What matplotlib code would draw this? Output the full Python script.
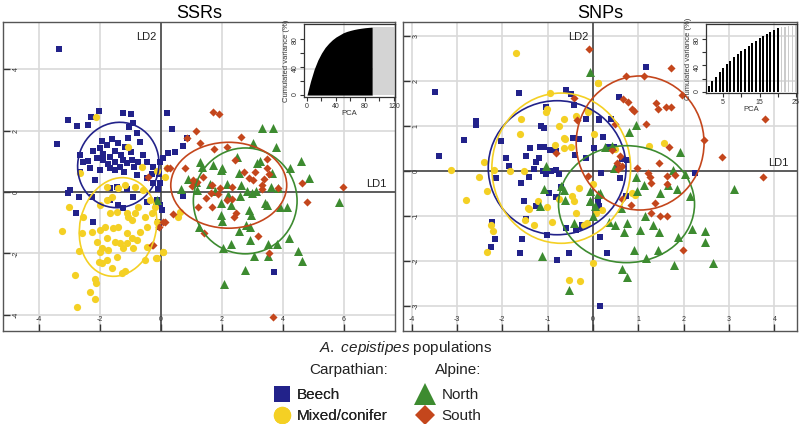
import numpy as np
import matplotlib
matplotlib.use("Agg")
import matplotlib.pyplot as plt
from matplotlib.patches import Ellipse
from matplotlib.lines import Line2D

plt.rcParams['font.family'] = ['Liberation Sans', 'DejaVu Sans']
plt.rcParams['mathtext.fontset'] = 'custom'
plt.rcParams['mathtext.it'] = 'Liberation Sans:italic'
plt.rcParams['mathtext.rm'] = 'Liberation Sans'

groups = ['Beech', 'Mixed/conifer', 'North', 'South']
colors = {'Beech': '#22228a', 'Mixed/conifer': '#f4d024', 'North': '#3d8b30', 'South': '#c4461c'}
markers = {'Beech': 's', 'Mixed/conifer': 'o', 'North': '^', 'South': 'D'}
msize = {'Beech': 25, 'Mixed/conifer': 27, 'North': 42, 'South': 17}

# ---- SSRs : LD1 / LD2 scores ----
ssr_beech = [
    (-3.34, 4.65), (0.19, 2.59), (0.35, 2.05), (0.84, 1.77), (0.71, 1.50), (0.46, 1.31), (0.24, 1.26), (0.08, 1.10),
    (0.73, -0.13), (3.70, -2.61), (-3.04, 2.35), (-2.03, 2.65), (-1.23, 2.59), (-0.98, 2.54), (-2.30, 2.43),
    (-2.74, 2.15), (-2.38, 2.18), (-3.40, 1.55), (-1.62, 1.72), (-1.07, 1.77), (-0.80, 1.93), (-1.04, 2.13),
    (-0.91, 2.24), (-0.69, 1.64), (-2.22, 1.32), (-2.00, 1.42), (-1.78, 1.53), (-1.40, 1.59), (-1.18, 1.48),
    (-2.66, 1.21), (-2.55, 0.99), (-2.11, 1.10), (-1.89, 1.04), (-1.67, 1.15), (-1.51, 0.99), (-1.34, 0.83),
    (-1.13, 0.93), (-0.96, 1.04), (-0.74, 0.99), (-0.47, 0.99), (-0.25, 0.83), (-0.03, 0.99), (-2.33, 0.77),
    (-2.00, 0.72), (-1.67, 0.77), (-1.51, 0.72), (-2.16, 0.39), (-2.66, 0.66), (-0.80, 0.55), (-0.47, 0.45),
    (-0.25, 0.28), (-0.03, 0.28), (-1.45, 0.17), (-1.13, 0.09), (-1.67, 0.12), (-2.98, 0.07), (-3.04, -0.04),
    (-2.69, -0.17), (-1.67, -0.26), (-1.40, -0.42), (-1.23, -0.53), (-0.91, -0.15), (-0.47, -0.32), (-0.14, -0.26),
    (-0.03, -0.42), (0.02, -0.59), (-2.27, -0.15), (-2.79, -0.70), (-2.22, -0.97), (-0.09, -0.97), (-0.05, -1.13),
    (-1.90, 1.25), (-1.30, 1.20), (-1.00, 1.30), (-0.60, 1.20), (-1.75, 0.90), (-1.20, 0.65), (-0.90, 0.80),
    (-0.30, 0.60), (-2.40, 1.00), (-1.50, 1.35), (-0.05, 0.60), (-0.10, 0.10), (-1.95, 1.65), (-1.25, 1.05)]
ssr_mixed = [
    (-2.14, 2.43), (-1.07, 1.46), (-2.66, 0.63), (-0.14, 0.70), (-0.63, 0.80), (-1.78, 0.17), (-3.01, -0.48),
    (-3.26, -1.26), (-2.55, -0.80), (-2.60, -1.35), (-2.69, -1.91), (-2.82, -2.71), (-2.74, -3.74), (-2.33, -3.25),
    (-2.16, -2.85), (-2.13, -2.98), (-2.16, -3.50), (-2.02, -2.27), (-2.00, -1.95), (-2.11, -1.62), (-2.27, -1.29),
    (-2.00, -1.24), (-1.84, -1.13), (-1.56, -1.18), (-1.40, -1.13), (-1.13, -1.35), (-0.96, -1.51), (-0.80, -1.57),
    (-0.47, -1.78), (-0.52, -2.22), (-0.14, -2.16), (0.08, -1.95), (-0.91, -1.84), (-1.23, -1.84), (-1.45, -2.11),
    (-1.78, -2.22), (-1.95, -2.33), (-1.62, -2.49), (-1.29, -2.65), (-1.18, -2.57), (-1.78, -1.51), (-1.51, -1.62),
    (-1.34, -1.67), (-1.13, -1.67), (-1.73, -1.89), (-1.95, -1.84), (-1.67, -0.70), (-2.00, -0.42), (-1.45, -0.64),
    (-1.13, -0.70), (-0.85, -0.70), (-0.52, -0.80), (-0.31, -0.70), (-0.20, -0.48), (-0.74, -0.48), (-0.96, -0.91),
    (-0.47, -1.13), (-0.69, -1.29), (-1.07, -0.80), (-1.78, -0.26), (-1.62, -0.15), (-1.40, 0.12), (-1.18, 0.23),
    (-0.85, 0.15), (-0.58, 0.07), (-0.36, -0.26), (-0.14, -0.97), (0.62, -0.64), (0.57, -0.80), (0.08, -1.94),
    (-0.16, -2.15), (0.19, 0.77), (0.14, 0.50)]
ssr_north = [
    (3.30, 2.10), (3.68, 2.08), (3.77, 1.48), (3.03, 1.61), (2.48, 1.15), (1.28, 0.99), (1.33, 0.83), (1.72, 0.88),
    (1.97, 0.72), (1.99, 0.77), (2.54, 0.63), (3.14, 0.96), (3.23, 1.01), (3.63, 0.61), (4.23, 0.77), (4.58, 1.01),
    (4.86, 0.47), (0.90, 0.42), (1.15, 0.34), (1.61, 0.26), (2.15, 0.25), (2.62, 0.23), (2.81, 0.04), (0.65, 0.09),
    (1.17, 0.07), (1.77, 0.04), (2.21, -0.10), (2.59, -0.13), (2.97, -0.02), (3.11, 0.04), (3.60, 0.15), (3.85, 0.12),
    (1.97, -0.35), (2.29, -0.42), (2.90, -0.59), (3.42, -0.37), (3.47, -0.42), (3.90, -0.48), (4.12, -0.50),
    (1.97, -0.75), (1.99, -0.93), (2.95, -0.75), (2.54, -1.27), (2.79, -1.08), (2.92, -1.13), (1.26, -1.13),
    (2.02, -1.82), (2.29, -1.71), (2.92, -1.57), (3.05, -2.09), (3.52, -1.71), (3.79, -1.70), (4.21, -1.51),
    (4.48, -1.91), (4.63, -2.24), (2.75, -2.54), (3.52, -2.09), (2.07, -3.01), (5.84, -0.34), (-0.14, -0.26)]
ssr_south = [
    (1.69, 2.60), (1.90, 2.54), (1.15, 1.99), (0.84, 1.75), (1.28, 1.59), (1.74, 1.39), (2.17, 1.46), (2.61, 1.78),
    (0.30, 0.77), (0.77, 0.77), (1.06, 0.39), (1.17, 0.34), (1.01, 0.20), (1.39, 0.48), (1.66, 0.23), (1.93, 0.12),
    (1.88, -0.07), (2.32, 0.15), (2.43, 1.04), (2.73, 0.66), (2.90, 0.45), (3.08, 0.66), (3.03, 0.39), (3.36, 0.41),
    (3.30, 0.23), (3.49, 1.07), (3.49, 0.77), (3.55, 0.59), (3.30, 0.09), (3.83, 0.12), (4.61, 0.30), (4.80, -0.32),
    (5.95, 0.15), (1.48, -0.21), (1.66, -0.50), (1.64, -0.02), (2.15, -0.26), (2.32, -0.24), (2.46, -0.70),
    (2.40, -0.80), (1.22, -0.48), (1.42, -1.35), (3.19, -1.43), (0.38, -0.72), (0.13, -0.97), (-0.05, -1.13),
    (-0.31, -1.73), (3.68, -4.09), (-0.44, 0.48), (0.19, 0.77), (0.08, -0.97), (-0.27, -1.73), (3.55, -2.00)]

# ---- SNPs : LD1 / LD2 scores ----
snp_beech = [
    (-3.48, 1.75), (-3.39, 0.33), (-2.84, 0.69), (-2.59, 1.10), (-2.58, 1.02), (-2.03, 0.67), (-1.91, 0.28),
    (-2.13, -0.15), (-2.22, -1.13), (-2.17, -1.52), (-2.26, -1.70), (-1.63, 1.73), (-1.85, 0.11), (-1.59, -0.27),
    (-1.52, -0.66), (-1.48, -1.07), (-1.57, -1.51), (-1.61, -1.83), (-1.48, 0.33), (-1.39, 0.50), (-1.41, -0.13),
    (-1.26, 0.19), (-1.20, 0.28), (-1.16, 0.53), (-1.15, 1.00), (-1.07, 0.95), (-1.07, 0.54), (-1.30, 0.04),
    (-1.11, 0.00), (-1.04, -0.07), (-0.93, 0.00), (-0.95, 0.47), (-0.81, 0.44), (-0.81, 0.02), (-0.74, -0.07),
    (-0.96, -0.50), (-0.81, -0.57), (-0.70, -0.35), (-1.26, -0.79), (-1.01, -1.42), (-0.79, -1.98), (-0.59, -1.27),
    (-0.52, -1.83), (-0.37, -1.31), (-0.24, -1.25), (-0.59, 1.79), (-0.48, 1.71), (-0.42, 1.47), (-0.16, 1.16),
    (0.13, 1.13), (-0.44, 0.74), (-0.30, 0.70), (-0.39, 0.36), (-0.15, 0.28), (0.02, 0.50), (0.15, -3.01),
    (-1.04, 1.41), (1.18, 2.32), (0.58, 1.64), (0.14, 1.15), (0.39, 1.15), (0.23, 0.76), (0.34, 0.52), (0.47, 0.54),
    (0.63, 0.26), (0.74, 0.24), (0.54, 0.06), (0.18, -0.04), (0.60, -0.15), (0.72, -0.56), (0.12, -0.64),
    (0.13, -0.78), (0.15, -1.47), (0.30, -1.83), (2.25, -0.05), (-0.25, -1.21)]
snp_mixed = [
    (-1.70, 2.61), (-0.95, 1.73), (-1.01, 1.37), (-1.04, 1.32), (-1.58, 1.15), (-1.60, 0.81), (-0.74, 1.00),
    (-0.65, 1.16), (-0.65, 0.73), (-0.61, 0.70), (-0.84, 0.58), (-0.64, 0.50), (-0.48, 0.52), (-0.37, 1.21),
    (-0.11, 1.33), (0.11, 1.95), (-3.13, 0.02), (-2.81, -0.64), (-2.41, 0.20), (-2.52, -0.14), (-2.33, -0.44),
    (-2.19, 0.02), (-1.84, 0.00), (-1.52, 0.00), (-1.44, -0.83), (-1.41, -0.85), (-1.50, -1.09), (-1.29, -1.20),
    (-1.22, -0.68), (-1.01, -0.81), (-0.91, -1.14), (-0.74, -0.63), (-0.46, -0.56), (-0.41, -0.68), (-0.37, -0.94),
    (-0.19, -1.20), (-0.30, -0.37), (0.00, -0.30), (-2.24, -1.20), (-2.20, -1.33), (-2.33, -1.81), (-0.52, -2.42),
    (-0.28, -2.44), (-0.01, -2.04), (0.12, 1.96), (-0.10, 1.32), (0.02, 0.82), (1.24, 0.56), (1.57, 0.63),
    (0.49, 0.48), (0.85, -0.50), (0.93, -0.53), (0.06, -0.93), (0.19, -0.88), (-0.14, -1.16)]
snp_north = [
    (-0.07, 2.19), (0.96, 1.02), (0.80, 0.87), (1.93, 0.43), (2.04, -0.07), (3.10, -0.41), (0.46, 0.06),
    (0.43, 0.56), (0.26, 0.53), (0.94, -0.13), (1.13, -0.31), (0.98, -0.44), (1.48, -0.50), (1.66, -0.31),
    (1.85, -0.41), (2.14, -0.56), (1.77, 0.01), (0.62, -0.83), (0.36, -1.13), (0.49, -1.21), (0.76, -1.16),
    (1.15, -1.01), (0.68, -1.37), (1.04, -1.31), (1.33, -1.21), (1.46, -1.37), (1.87, -1.47), (2.18, -1.30),
    (2.46, -1.33), (2.46, -1.59), (0.90, -1.76), (1.44, -1.76), (1.16, -1.94), (1.79, -2.10), (2.65, -2.04),
    (0.63, -2.19), (0.76, -2.37), (0.12, -0.51), (-0.07, -0.68), (-1.04, 0.11), (-1.09, -0.40), (-1.16, -0.79),
    (-0.63, -0.42), (-0.61, -0.64), (-0.70, -0.33), (-0.41, -1.15), (-1.13, -1.89), (-0.53, -2.64), (-0.07, -0.44),
    (-0.07, -0.66), (0.00, -1.01), (0.15, -0.50), (0.04, -0.79)]
snp_south = [
    (-0.09, 2.70), (-0.42, 1.61), (-0.81, 0.39), (-0.11, -0.11), (-0.35, 1.13), (0.73, 2.11), (1.13, 2.11),
    (1.72, 2.28), (1.96, 1.69), (0.67, 1.59), (0.78, 1.54), (0.85, 1.37), (0.90, 1.33), (1.39, 1.52), (1.44, 1.38),
    (1.61, 1.43), (1.71, 1.43), (1.17, 1.04), (0.49, 1.04), (1.68, 0.52), (1.46, 0.17), (2.45, 0.69), (2.84, 0.30),
    (3.76, -0.14), (3.79, 1.15), (0.43, 0.47), (0.54, 0.17), (0.63, 0.11), (0.60, 0.32), (0.98, 0.06), (1.21, -0.04),
    (1.26, -0.14), (1.28, -0.27), (1.64, -0.11), (1.82, -0.09), (1.64, -0.30), (1.37, -0.72), (1.29, -0.94),
    (1.48, -1.01), (1.63, -1.01), (0.83, -0.76), (0.63, -0.63), (1.98, -1.77), (0.55, 0.05)]

# ellipses: centre x, centre y, width, height, angle
ssr_ell = {'Beech': (-1.40, 0.88, 2.65, 2.80, -20), 'Mixed/conifer': (-1.41, -1.14, 2.50, 3.25, -13),
           'North': (2.76, -0.29, 3.40, 3.45, 0), 'South': (2.22, 0.22, 3.80, 2.80, 0)}
snp_ell = {'Beech': (-0.79, 0.07, 3.04, 2.98, 0), 'Mixed/conifer': (-0.70, 0.06, 3.06, 3.34, 0),
           'North': (0.74, -0.74, 3.00, 2.60, 0), 'South': (1.04, 0.62, 2.82, 2.98, 0)}

# PCA cumulated variance insets
ssr_pc = [0, 1, 5, 10, 15, 20, 25, 30, 35, 40, 45, 50, 55, 60, 65, 70, 75, 80, 85, 90]
ssr_cum = [0, 4, 20, 37, 50, 60, 68, 74, 79, 83, 86, 89, 91, 92.5, 93.8, 94.8, 95.6, 96.3, 96.8, 97.2]
ssr_rest = ([91, 130], [98, 98])
snp_cum = [9, 16, 23, 30, 36, 42, 47, 52, 57, 61, 65, 69, 73, 77, 81, 84, 87, 90, 93, 96]
snp_rest = [97, 98, 99, 99.5, 100, 100]

fig = plt.figure(figsize=(8, 4.24), dpi=100)
axL = fig.add_axes([3 / 800, 1 - 331 / 424, 392 / 800, 309 / 424])
axR = fig.add_axes([403 / 800, 1 - 331 / 424, 394 / 800, 309 / 424])

data = {axL: {'Beech': ssr_beech, 'Mixed/conifer': ssr_mixed, 'North': ssr_north, 'South': ssr_south},
        axR: {'Beech': snp_beech, 'Mixed/conifer': snp_mixed, 'North': snp_north, 'South': snp_south}}


def panel(ax, pts, ells, xlim, ylim, ticks_x, ticks_y, title):
    ax.set_xlim(xlim)
    ax.set_ylim(ylim)
    ax.set_xticks(ticks_x)
    ax.set_yticks(ticks_y)
    ax.set_xticklabels([f'{t:g}' for t in ticks_x])
    ax.set_yticklabels([f'{t:g}' for t in ticks_y])
    ax.grid(True, color='#d9d9d9', lw=1.2)
    ax.set_axisbelow(True)
    ax.axhline(0, color='#3a3a3a', lw=1.1, zorder=1)
    ax.axvline(0, color='#3a3a3a', lw=1.1, zorder=1)
    for s in ax.spines.values():
        s.set_color('#555555')
        s.set_linewidth(1.0)
    ax.tick_params(axis='x', direction='in', length=5, width=1, pad=-11, labelsize=5, colors='#333333')
    ax.tick_params(axis='y', direction='in', length=5, width=1, pad=-12, labelsize=5, colors='#333333',
                   labelrotation=90)
    for lab in ax.get_yticklabels():
        lab.set_va('center')
    for g in groups:
        xy = np.array(pts[g]).T
        ax.scatter(xy[0], xy[1], s=msize[g], marker=markers[g], color=colors[g], linewidths=0, zorder=3)
    for g in groups:
        cx, cy, w, h, a = ells[g]
        ax.add_patch(Ellipse((cx, cy), w, h, angle=a, fill=False, ec=colors[g], lw=1.2, zorder=4))
    ax.annotate('LD2', xy=(0, 1), xycoords=('data', 'axes fraction'), xytext=(-3, -7),
                textcoords='offset points', ha='right', va='top', fontsize=8, color='#222222')
    ax.annotate('LD1', xy=(1, 0), xycoords=('axes fraction', 'data'), xytext=(-6, 2),
                textcoords='offset points', ha='right', va='bottom', fontsize=8, color='#222222')
    ax.set_title(title, fontsize=13, pad=3)


panel(axL, data[axL], ssr_ell, (-5.18, 7.67), (-4.53, 5.54), [-4, -2, 0, 2, 4, 6], [-4, -2, 0, 2, 4], 'SSRs')
panel(axR, data[axR], snp_ell, (-4.19, 4.50), (-3.56, 3.31), [-4, -3, -2, -1, 0, 1, 2, 3, 4],
      [-3, -2, -1, 0, 1, 2, 3], 'SNPs')


def inset_style(ins, xt, xl):
    ins.patch.set_alpha(0)
    ins.set_yticks([0, 20, 40, 60, 80])
    ins.set_yticklabels(['0', '', '40', '', '80'])
    ins.set_xticks(xt)
    ins.set_xticklabels(xl)
    ins.tick_params(axis='both', direction='out', length=3, width=0.8, pad=1, labelsize=5, colors='#333333')
    ins.tick_params(axis='y', labelrotation=90)
    for s in ins.spines.values():
        s.set_color('#333333')
        s.set_linewidth(0.9)
    ins.set_ylabel('Cumulated variance (%)', fontsize=5.5, labelpad=1, color='#333333')
    ins.set_xlabel('PCA', fontsize=5.5, labelpad=0, color='#333333')


insL = axL.inset_axes([0.768, 0.757, 0.232, 0.236])
insL.fill_between(ssr_pc, 0, ssr_cum, color='black', lw=0)
insL.fill_between(ssr_rest[0], 0, ssr_rest[1], color='#d4d4d4', lw=0)
insL.set_xlim(-4, 121.5)
insL.set_ylim(-2.9, 101.4)
inset_style(insL, [0, 20, 40, 60, 80, 100, 120], ['0', '', '40', '', '80', '', '120'])

insR = axR.inset_axes([0.769, 0.77, 0.231, 0.2235])
pcs = np.arange(1, len(snp_cum) + 1)
insR.bar(pcs, snp_cum, width=0.55, color='black')
insR.bar(np.arange(len(snp_cum) + 1, len(snp_cum) + 1 + len(snp_rest)), snp_rest, width=0.4, color='#cccccc')
insR.set_xlim(0.28, 25.3)
insR.set_ylim(-1.5, 102)
inset_style(insR, [5, 10, 15, 20, 25], ['5', '', '15', '', '25'])

# legend
txt = '#222222'
fig.text(406 / 800, 1 - 348 / 424, r'$\it{A.\ cepistipes}$ populations', ha='center', va='center',
         fontsize=11, color=txt)
fig.text(349 / 800, 1 - 370 / 424, 'Carpathian:', ha='center', va='center', fontsize=11, color=txt)
fig.text(458 / 800, 1 - 370 / 424, 'Alpine:', ha='center', va='center', fontsize=11, color=txt)


def handle(g, ms):
    return Line2D([], [], marker=markers[g], color=colors[g], ls='none', markersize=ms, mew=0)


legC = fig.legend([handle('Beech', 11.5), handle('Mixed/conifer', 12.5)], ['Beech', 'Mixed/conifer'],
                  loc='upper left', bbox_to_anchor=(272 / 800, 1 - 388 / 424),
                  frameon=False, fontsize=11, labelspacing=0.45, handletextpad=0.35,
                  handlelength=1.3, borderpad=0, borderaxespad=0)
legA = fig.legend([handle('North', 16), handle('South', 10.5)], ['North', 'South'],
                  loc='upper left', bbox_to_anchor=(414 / 800, 1 - 388 / 424),
                  frameon=False, fontsize=11, labelspacing=0.45, handletextpad=0.4,
                  handlelength=1.4, borderpad=0, borderaxespad=0)
for leg in (legC, legA):
    for t in leg.get_texts():
        t.set_color(txt)
fig.add_artist(legC)

fig.savefig('out.png', dpi=100)
